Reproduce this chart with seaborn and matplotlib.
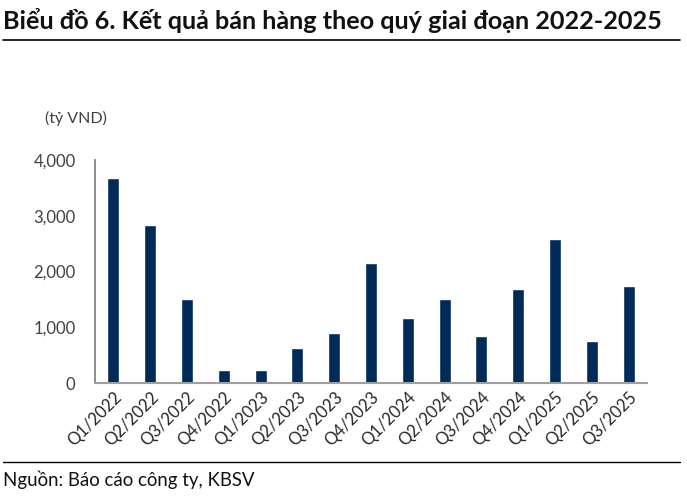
import matplotlib
matplotlib.use('Agg')
import matplotlib.pyplot as plt
import seaborn as sns
import pandas as pd
from matplotlib.ticker import FuncFormatter, FixedLocator
from matplotlib.lines import Line2D

# Data
quarters = ['Q1/2022', 'Q2/2022', 'Q3/2022', 'Q4/2022',
            'Q1/2023', 'Q2/2023', 'Q3/2023', 'Q4/2023',
            'Q1/2024', 'Q2/2024', 'Q3/2024', 'Q4/2024',
            'Q1/2025', 'Q2/2025', 'Q3/2025']
sales = [3670, 2830, 1510, 225, 240, 630, 900, 2150,
         1160, 1500, 845, 1680, 2580, 755, 1740]

df = pd.DataFrame({'quarter': quarters, 'sales': sales})

sns.set_theme(style='white')
plt.rcParams['font.family'] = ['Lato', 'DejaVu Sans']

fig = plt.figure(figsize=(6.87, 4.96), dpi=100)
ax = fig.add_axes([0.1383, 0.2278, 0.8035, 0.4496])

sns.barplot(data=df, x='quarter', y='sales', color='#002a57',
            width=0.33, saturation=1, ax=ax)

ax.set_ylim(0, 4000)
ax.set_xlim(-0.5, len(quarters) - 0.5)
ax.set_yticks([0, 1000, 2000, 3000, 4000])
ax.yaxis.set_major_formatter(FuncFormatter(lambda v, p: f'{int(v):,}'))
ax.set_xlabel('')
ax.set_ylabel('')

for s in ['top', 'right']:
    ax.spines[s].set_visible(False)
ax.spines['left'].set_color('#808080')
ax.spines['bottom'].set_color('#a0a0a0')
ax.spines['bottom'].set_linewidth(1.5)

ax.tick_params(axis='y', which='major', direction='out', length=6,
               color='#808080', labelsize=12, labelcolor='#404040', pad=8)
ax.tick_params(axis='x', which='major', length=0, labelsize=12,
               labelcolor='#262626', pad=4)
ax.xaxis.set_minor_locator(FixedLocator([i + 0.5 for i in range(len(quarters))]))
ax.tick_params(axis='x', which='minor', direction='in', length=5,
               color='#404040', width=1)
plt.setp(ax.get_xticklabels(), rotation=45, ha='right', rotation_mode='anchor')

# unit label
fig.text(0.065, 0.752, '(tỷ VND)', fontsize=11.5, color='#404040')

# title and rules
fig.text(0.005, 0.942, 'Biểu đồ 6. Kết quả bán hàng theo quý giai đoạn 2022-2025',
         fontsize=18.2, fontweight='bold', color='#111111')
fig.add_artist(Line2D([0.005, 0.99], [0.919, 0.919], color='black', lw=1.2))
fig.add_artist(Line2D([0.005, 0.99], [0.069, 0.069], color='black', lw=1.0))
fig.text(0.005, 0.02, 'Nguồn: Báo cáo công ty, KBSV', fontsize=13.4, color='#111111')

fig.savefig('out.png', dpi=100)
